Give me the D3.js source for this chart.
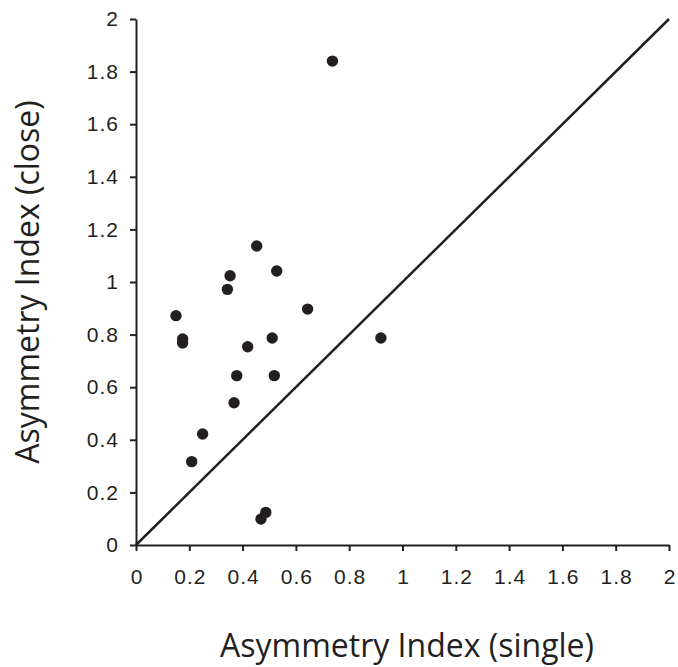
<!DOCTYPE html>
<html>
<head>
<meta charset="utf-8">
<script src="https://cdn.jsdelivr.net/npm/d3@7"></script>
<style>
  body { margin: 0; background: #fff; }
  svg { display: block; }
</style>
</head>
<body>
<svg id="svg"></svg>
<script>
// asymmetry index, single vs close
var singleVals = [0.737, 0.453, 0.353, 0.528, 0.343, 0.644, 0.150, 0.175, 0.175, 0.511,
                  0.419, 0.919, 0.378, 0.519, 0.368, 0.250, 0.209, 0.487, 0.469];
var closeVals  = [1.840, 1.137, 1.024, 1.042, 0.972, 0.897, 0.872, 0.783, 0.768, 0.787,
                  0.754, 0.787, 0.644, 0.644, 0.541, 0.422, 0.317, 0.124, 0.099];
var tickVals = [0, 0.2, 0.4, 0.6, 0.8, 1, 1.2, 1.4, 1.6, 1.8, 2];
var xTitle = "Asymmetry Index (single)";
var yTitle = "Asymmetry Index (close)";

var width = 678, height = 667;
var ink = "#231f20";

var x = d3.scaleLinear().domain([0, 2]).range([136, 669]);
var y = d3.scaleLinear().domain([0, 2]).range([545, 19]);

var svg = d3.select("#svg")
    .attr("width", width)
    .attr("height", height);

function fmt(d) { return d3.format("~g")(d); }

var xAxis = svg.append("g")
    .attr("transform", "translate(0," + y(0) + ")")
    .call(d3.axisBottom(x).tickValues(tickVals).tickFormat(fmt).tickSizeInner(6).tickSizeOuter(0).tickPadding(18));

var yAxis = svg.append("g")
    .attr("transform", "translate(" + x(0) + ",0)")
    .call(d3.axisLeft(y).tickValues(tickVals).tickFormat(fmt).tickSizeInner(6).tickSizeOuter(0).tickPadding(11));

[xAxis, yAxis].forEach(function(ax) {
    ax.select(".domain").attr("stroke", ink).attr("stroke-width", 2);
    ax.selectAll(".tick line").attr("stroke", ink).attr("stroke-width", 2);
    ax.selectAll(".tick text")
        .attr("fill", ink)
        .attr("font-family", "'Liberation Sans', Arial, sans-serif")
        .attr("font-size", 21)
        .attr("letter-spacing", 1);
});
xAxis.selectAll(".tick text").attr("dx", 0.5);

// identity line
svg.append("line")
    .attr("x1", x(0)).attr("y1", y(0))
    .attr("x2", x(2)).attr("y2", y(2))
    .attr("stroke", ink)
    .attr("stroke-width", 2.5);

var points = singleVals.map(function(v, i) { return {s: v, c: closeVals[i]}; });

svg.append("g").selectAll("circle")
    .data(points)
    .enter()
    .append("circle")
    .attr("cx", function(d) { return x(d.s); })
    .attr("cy", function(d) { return y(d.c); })
    .attr("r", 5.7)
    .attr("fill", ink);

svg.append("text")
    .attr("x", 407)
    .attr("y", 657)
    .attr("text-anchor", "middle")
    .attr("fill", ink)
    .style("font-family", "'Open Sans', sans-serif")
    .style("font-size", "32px")
    .text(xTitle);

svg.append("text")
    .attr("transform", "translate(39," + 282 + ") rotate(-90)")
    .attr("text-anchor", "middle")
    .attr("fill", ink)
    .style("font-family", "'Open Sans', sans-serif")
    .style("font-size", "32px")
    .text(yTitle);
</script>
</body>
</html>
